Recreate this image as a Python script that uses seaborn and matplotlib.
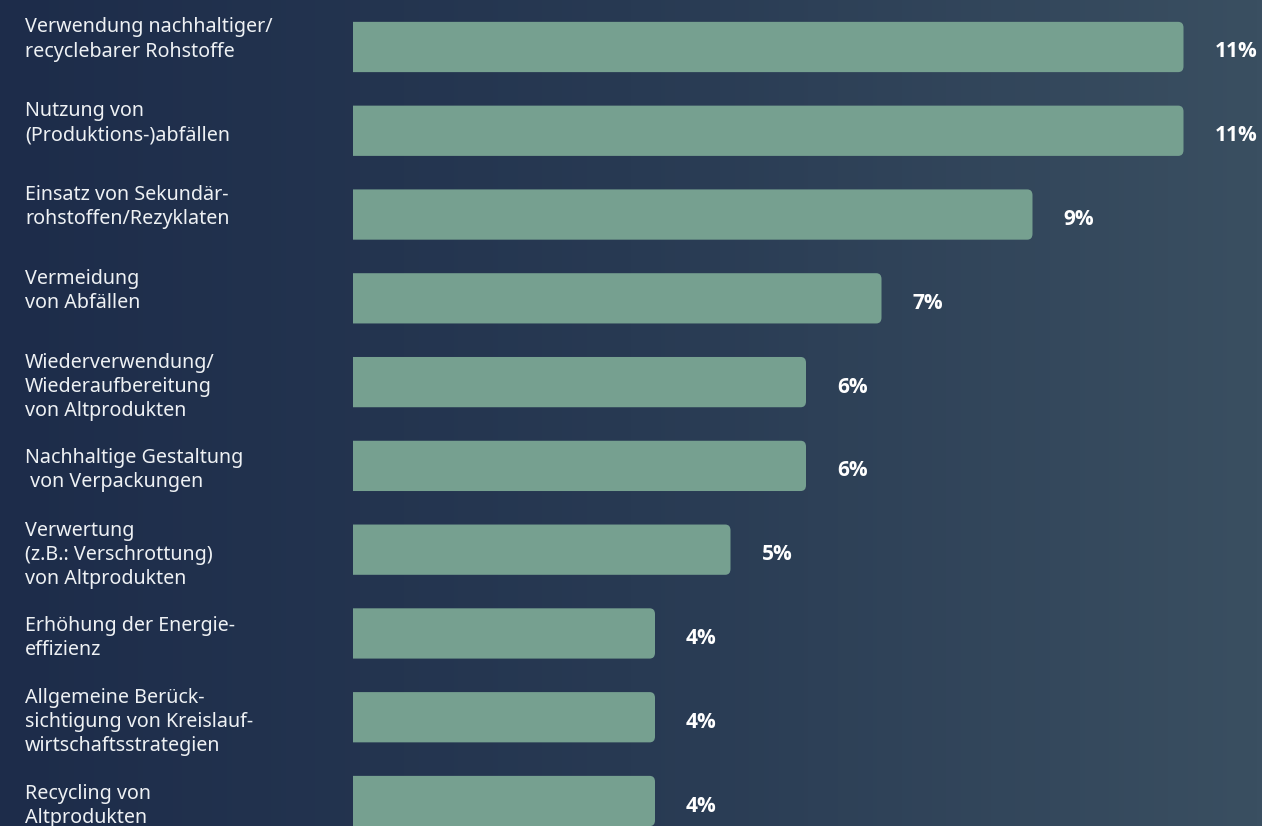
import numpy as np
import pandas as pd
import matplotlib
matplotlib.use("Agg")
import matplotlib.pyplot as plt
from matplotlib.patches import FancyBboxPatch
from matplotlib.colors import LinearSegmentedColormap
import seaborn as sns

categories = [
    "Verwendung nachhaltiger/\nrecyclebarer Rohstoffe",
    "Nutzung von\n(Produktions-)abfällen",
    "Einsatz von Sekundär-\nrohstoffen/Rezyklaten",
    "Vermeidung\nvon Abfällen",
    "Wiederverwendung/\nWiederaufbereitung\nvon Altprodukten",
    "Nachhaltige Gestaltung\n von Verpackungen",
    "Verwertung\n(z.B.: Verschrottung)\nvon Altprodukten",
    "Erhöhung der Energie-\neffizienz",
    "Allgemeine Berück-\nsichtigung von Kreislauf-\nwirtschaftsstrategien",
    "Recycling von\nAltprodukten",
]
values = [11, 11, 9, 7, 6, 6, 5, 4, 4, 4]
value_labels = ["11%", "11%", "9%", "7%", "6%", "6%", "5%", "4%", "4%", "4%"]

# vertical nudge (px) of each category label relative to its bar
label_nudge = [-10, -10, -10, -10, 2, 2, 2, 2, 2, 2]

BAR = "#76a090"
TEXT = "#eef1f4"

sns.set_theme(style="white")
plt.rcParams["font.family"] = ["Noto Sans", "DejaVu Sans"]

W, H = 1262, 826
fig = plt.figure(figsize=(W / 100, H / 100), dpi=100)

# horizontal background gradient
bg = fig.add_axes([0, 0, 1, 1], zorder=0)
bg.axis("off")
cmap = LinearSegmentedColormap.from_list("bg", ["#1d2c4a", "#283a53", "#3a4f61"])
bg.imshow(np.linspace(0, 1, 256)[None, :], aspect="auto", cmap=cmap,
          extent=[0, 1, 0, 1])
bg.set_xlim(0, 1)
bg.set_ylim(0, 1)

x0 = 353 / W
ax = fig.add_axes([x0, 0, 1 - x0, 1], zorder=1)
ax.patch.set_alpha(0)

df = pd.DataFrame({"cat": categories, "val": values})
sns.barplot(data=df, y="cat", x="val", orient="h", color=BAR,
            saturation=1, width=0.6, ax=ax)

px_per_unit = 75.5
ax.set_xlim(0, (W - 353) / px_per_unit)
pitch = 83.8
ax.set_ylim(9 + (H - 801) / pitch, -47 / pitch)

# swap rectangles for bars with rounded ends
for p in list(ax.patches):
    x, y = p.get_x(), p.get_y()
    w, h = p.get_width(), p.get_height()
    fb = FancyBboxPatch((x - 0.2, y), w + 0.2, h,
                        boxstyle="round,pad=0,rounding_size=0.07",
                        mutation_aspect=pitch / px_per_unit * 0.9,
                        facecolor=BAR, edgecolor="none", zorder=2)
    p.remove()
    ax.add_patch(fb)

for i, (v, lab) in enumerate(zip(values, value_labels)):
    ax.text(v + 31 / px_per_unit, i + 10.5 / pitch, lab, va="baseline",
            ha="left", color="white", fontsize=15, fontweight="bold",
            family=["Open Sans", "DejaVu Sans"])

line_px = 25.0
cap_px = 14.0
for i, c in enumerate(categories):
    n = c.count("\n") + 1
    center = 47 + pitch * i + label_nudge[i]
    base_last = center + ((n - 1) * line_px + cap_px) / 2
    fig.text(25 / W, 1 - base_last / H, c, ha="left", va="baseline",
             color=TEXT, fontsize=14.2, linespacing=1.27)

ax.set_xlabel("")
ax.set_ylabel("")
ax.set_xticks([])
ax.set_yticks([])
for s in ax.spines.values():
    s.set_visible(False)

fig.savefig("out.png", dpi=100)
